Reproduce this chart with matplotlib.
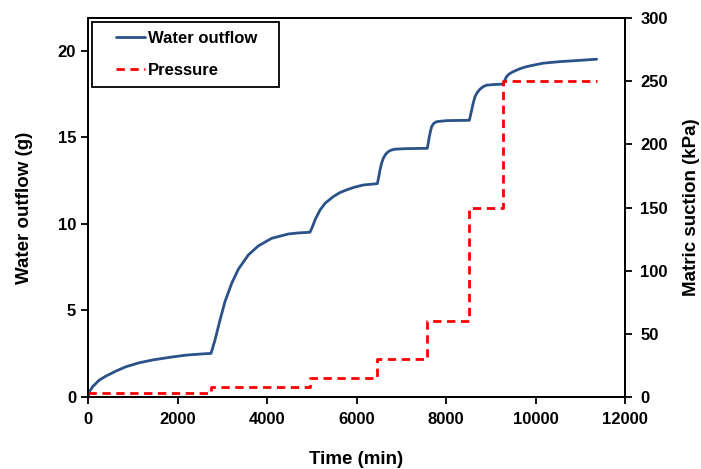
import matplotlib
matplotlib.use("Agg")
import matplotlib.pyplot as plt
from matplotlib.patches import Rectangle

# Water outflow data (time in min, cumulative outflow in g)
time_min = [0, 30, 104, 253, 402, 626, 849, 1147, 1445, 1818, 2190, 2500, 2749,
            2838, 2950, 3061, 3211, 3359, 3583, 3806, 4105, 4477, 4700, 4961,
            5010, 5073, 5184, 5300, 5482, 5620, 5780, 5950, 6152, 6350, 6466,
            6500, 6525, 6560, 6600, 6650, 6711, 6780, 6861, 7100, 7583,
            7605, 7628, 7655, 7680, 7730, 7792, 8015, 8521,
            8545, 8574, 8610, 8648, 8700, 8760, 8830, 8909, 9100, 9281,
            9310, 9355, 9420, 9503, 9650, 9802, 10000, 10174, 10547, 10920, 11367]
outflow_g = [0, 0.3, 0.6, 0.98, 1.21, 1.5, 1.75, 1.98, 2.14, 2.29, 2.42, 2.48, 2.52,
             3.29, 4.45, 5.51, 6.57, 7.38, 8.21, 8.73, 9.17, 9.42, 9.48, 9.52,
             9.8, 10.23, 10.8, 11.2, 11.58, 11.8, 11.97, 12.12, 12.25, 12.3, 12.33,
             12.75, 13.12, 13.5, 13.8, 14.02, 14.18, 14.27, 14.32, 14.35, 14.37,
             14.7, 15.05, 15.38, 15.63, 15.82, 15.91, 15.97, 15.99,
             16.25, 16.59, 17.0, 17.36, 17.6, 17.79, 17.93, 18.02, 18.06, 18.08,
             18.28, 18.52, 18.68, 18.8, 18.97, 19.09, 19.2, 19.29, 19.38, 19.44, 19.52]

# Applied matric suction (kPa), step changes
press_time = [0, 2749, 4961, 6466, 7583, 8521, 9281, 11367]
press_kpa = [3, 8, 15, 30, 60, 150, 250, 250]

x_ticks = [0, 2000, 4000, 6000, 8000, 10000, 12000]
y_left_ticks = [0, 5, 10, 15, 20]
y_right_ticks = [0, 50, 100, 150, 200, 250, 300]

plt.rcParams['font.family'] = ['Liberation Sans', 'DejaVu Sans']
plt.rcParams['font.weight'] = 'bold'

W, H = 701, 469
fig = plt.figure(figsize=(W / 100, H / 100), dpi=100)
ax = fig.add_axes([88 / W, (H - 397) / H, (625 - 88) / W, (397 - 18) / H])
ax2 = ax.twinx()

l1, = ax.plot(time_min, outflow_g, color='#2B5189', lw=2.0, label='Water outflow',
              solid_joinstyle='round', solid_capstyle='round')
l2, = ax2.plot(press_time, press_kpa, color='#FF0000', lw=2.0, ls=(0, (3, 2)),
               drawstyle='steps-post', label='Pressure')

ax.set_xlim(0, 12000)
ax.set_ylim(0, 21.9)
ax2.set_ylim(0, 300)
ax.set_xticks(x_ticks)
ax.set_yticks(y_left_ticks)
ax2.set_yticks(y_right_ticks)

for a in (ax, ax2):
    for s in a.spines.values():
        s.set_linewidth(1.3)
        s.set_color('black')
    a.tick_params(direction='out', length=5, width=1.3, labelsize=12)
    for lab in a.get_xticklabels() + a.get_yticklabels():
        lab.set_fontweight('bold')
ax.tick_params(axis='x', pad=6)
ax2.tick_params(axis='y', pad=6)

ax.set_xlabel('Time (min)', fontsize=13.5, fontweight='bold', labelpad=17)
ax.set_ylabel('Water outflow (g)', fontsize=13.5, fontweight='bold', labelpad=18)
ax2.set_ylabel('Matric suction (kPa)', fontsize=13.5, fontweight='bold', labelpad=11)

# legend (frame drawn separately to match the wide side padding)
leg = ax.legend(handles=[l1, l2], loc='upper left',
                bbox_to_anchor=(116 / W, (H - 31) / H), bbox_transform=fig.transFigure,
                frameon=False, handlelength=1.75, handletextpad=0.15,
                labelspacing=1.0, borderpad=0.0, borderaxespad=0.0,
                prop={'weight': 'bold', 'size': 12})
frame = Rectangle((92 / W, (H - 87) / H), 187 / W, 65 / H, transform=fig.transFigure,
                  facecolor='white', edgecolor='black', linewidth=1.3, zorder=4)
ax.add_patch(frame)
frame.set_clip_on(False)
leg.set_zorder(5)

fig.savefig('out.png', dpi=100)
